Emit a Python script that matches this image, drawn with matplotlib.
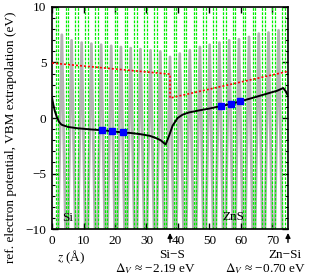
import matplotlib
matplotlib.use("Agg")
import matplotlib.pyplot as plt
from matplotlib.ticker import MultipleLocator

plt.rcParams['font.family'] = ['Liberation Serif', 'DejaVu Serif']
plt.rcParams['mathtext.fontset'] = 'stix'
plt.rcParams['axes.unicode_minus'] = True

# atomic planes (pairs of planes), in Angstrom
planes = [(1.15, 1.93), (4.28, 5.06), (7.41, 8.19), (10.54, 11.32),
          (13.67, 14.45), (16.80, 17.58), (19.93, 20.71), (23.06, 23.84),
          (26.19, 26.97), (29.32, 30.10), (32.45, 33.23), (35.58, 36.36),
          (38.71, 39.49), (41.84, 42.62), (44.97, 45.75), (48.10, 48.88),
          (51.23, 52.01), (54.36, 55.14), (57.49, 58.27), (60.62, 61.40),
          (63.75, 64.53), (66.88, 67.66), (70.01, 70.79), (73.14, 73.92)]

# planar averaged potential: maxima between plane pairs, deep minima at planes
pot_peak_z = [3.1, 6.2, 9.4, 12.5, 15.6, 18.8, 21.9, 25.0, 28.1, 31.3, 34.4, 37.5,
              40.6, 43.8, 47.0, 50.1, 53.2, 56.3, 59.4, 62.6, 65.7, 68.8, 72.0]
pot_peak_v = [7.5, 7.0, 6.8, 6.7, 6.6, 6.5, 6.4, 6.3, 6.2, 6.1, 6.0, 5.5,
              5.8, 6.1, 6.4, 6.6, 6.8, 7.0, 7.1, 7.3, 7.6, 7.7, 7.9]
pot_min_z = [0.0, 1.54, 4.67, 7.80, 10.93, 14.06, 17.19, 20.32, 23.45, 26.58,
             29.71, 32.84, 35.97, 39.10, 42.23, 45.36, 48.49, 51.62, 54.75,
             57.88, 61.01, 64.14, 67.27, 70.40, 73.53, 75.0]
pot_min_v = -16.0

# macroscopic average of the reference potential
avg_z = [0.0, 0.4, 0.9, 1.5, 2.2, 3.0, 5.0, 8.0, 12.0, 16.0, 19.2, 22.4, 25.0,
         28.0, 31.0, 33.0, 34.5, 36.1, 37.2, 38.3, 39.9, 41.5, 43.5, 47.0,
         50.0, 53.7, 56.9, 59.7, 63.0, 66.0, 69.0, 71.5, 73.5, 74.3, 75.0]
avg_v = [1.8, 1.2, 0.6, 0.1, -0.35, -0.6, -0.8, -0.92, -1.02, -1.1, -1.2, -1.3,
         -1.35, -1.45, -1.6, -1.8, -2.0, -2.38, -1.6, -0.7, 0.0, 0.3, 0.5, 0.7,
         0.85, 1.08, 1.27, 1.5, 1.75, 2.0, 2.25, 2.45, 2.7, 2.4, 2.0]

# VBM extrapolation
vbm_z = [0.0, 37.5, 37.5, 75.0]
vbm_v = [4.95, 3.95, 1.8, 4.2]

# sampled points
sq_z = [16.0, 19.2, 22.4, 53.7, 56.9, 59.7]
sq_v = [-1.1, -1.2, -1.3, 1.08, 1.27, 1.5]

# build potential path from minima and maxima
pot_z = [pot_min_z[0], pot_min_z[1]]
pot_v = [pot_min_v, pot_min_v]
for i in range(len(pot_peak_z)):
    pot_z += [pot_peak_z[i], pot_min_z[i + 2]]
    pot_v += [pot_peak_v[i], pot_min_v]
pot_z.append(pot_min_z[-1])
pot_v.append(pot_min_v)

fig = plt.figure(figsize=(3.10, 2.79), dpi=100)
ax = fig.add_axes([0.168, 0.179, 0.761, 0.796])

ax.plot(pot_z, pot_v, color='#b4b4b4', lw=2.0, zorder=1)
for a, b in planes:
    for zp in (a, b):
        ax.axvline(zp, color='#00f000', lw=0.9, dashes=(2.2, 1.1), zorder=2)
ax.plot(vbm_z, vbm_v, color='#ff0000', lw=1.2, dashes=(1.2, 1.2), zorder=3)
ax.plot(avg_z, avg_v, color='black', lw=1.4, zorder=4)
ax.plot(sq_z, sq_v, 's', color='#0000ff', ms=4.5, zorder=5)

ax.set_xlim(0, 75)
ax.set_ylim(-10, 10)
ax.xaxis.set_major_locator(MultipleLocator(10))
ax.yaxis.set_major_locator(MultipleLocator(5))
ax.yaxis.set_minor_locator(MultipleLocator(1))
ax.tick_params(direction='in', top=True, right=True, labelsize=9.5, width=1,
               length=4, pad=4)
ax.tick_params(which='minor', direction='in', right=True, length=2.5, width=0.8)
for s in ax.spines.values():
    s.set_linewidth(1.2)

ax.text(4.8, -9.0, 'Si', fontsize=9.5, ha='center', va='center')
ax.text(57.5, -8.9, 'ZnS', fontsize=9.5, ha='center', va='center')

# interface markers
for zi in (37.5, 75.0):
    ax.annotate('', xy=(zi, -10.35), xytext=(zi, -11.2), annotation_clip=False,
                arrowprops=dict(arrowstyle='-|>', color='black', lw=1,
                                mutation_scale=7, shrinkA=0, shrinkB=0))
ax.text(38.3, -12.3, 'Si\u2212S', fontsize=9.5, ha='center', va='center', clip_on=False)
ax.text(33.0, -13.6, '$\\Delta_V$ \u2248 \u22122.19 eV', fontsize=9.5, ha='center',
        va='center', clip_on=False)
ax.text(74.1, -12.3, 'Zn\u2212Si', fontsize=9.5, ha='center', va='center', clip_on=False)
ax.text(68.0, -13.6, '$\\Delta_V$ \u2248 \u22120.70 eV', fontsize=9.5, ha='center',
        va='center', clip_on=False)
ax.text(6.1, -12.5, r'$z$ (Å)', fontsize=9.5, ha='center', va='center', clip_on=False)

fig.text(11 / 310, 1 - 137 / 279, 'ref. electron potential, VBM extrapolation (eV)',
         rotation=90, ha='center', va='center', fontsize=9.5)

fig.savefig('out.png', dpi=100)
